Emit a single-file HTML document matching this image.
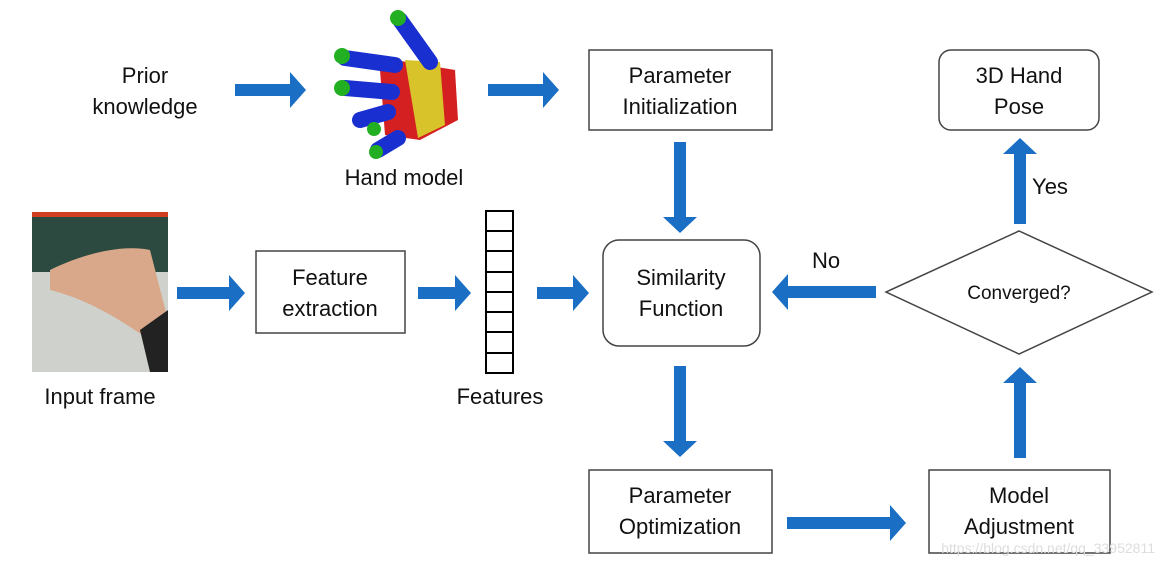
<!DOCTYPE html>
<html><head><meta charset="utf-8"><style>
body{margin:0;background:#fff}
svg text{font-family:"Liberation Sans",sans-serif;fill:#111}
</style></head><body>
<svg width="1163" height="567" viewBox="0 0 1163 567" xmlns="http://www.w3.org/2000/svg">
<defs>
<g id="ar"><path d="M0,-6 L-16,-6 L-16,-13 L0,0 L-16,13 L-16,6 Z"/></g>
</defs>
<g fill="#1a6fc4">
<!-- horizontal arrows right -->
<path d="M235,84 h55 v-12 l16,18 l-16,18 v-12 h-55z"/>
<path d="M488,84 h55 v-12 l16,18 l-16,18 v-12 h-55z"/>
<path d="M177,287 h52 v-12 l16,18 l-16,18 v-12 h-52z"/>
<path d="M418,287 h37 v-12 l16,18 l-16,18 v-12 h-37z"/>
<path d="M537,287 h36 v-12 l16,18 l-16,18 v-12 h-36z"/>
<path d="M787,517 h103 v-12 l16,18 l-16,18 v-12 h-103z"/>
<!-- left arrow No -->
<path d="M876,286 h-88 v-12 l-16,18 l16,18 v-12 h88z"/>
<!-- down arrows -->
<path d="M674,142 v75 h-11 l17,16 l17,-16 h-11 v-75z"/>
<path d="M674,366 v75 h-11 l17,16 l17,-16 h-11 v-75z"/>
<!-- up arrows -->
<path d="M1014,224 v-70 h-11 l17,-16 l17,16 h-11 v70z"/>
<path d="M1014,458 v-75 h-11 l17,-16 l17,16 h-11 v75z"/>
</g>
<g fill="none" stroke="#444" stroke-width="1.5">
<rect x="589" y="50" width="183" height="80"/>
<rect x="939" y="50" width="160" height="80" rx="12"/>
<rect x="256" y="251" width="149" height="82"/>
<rect x="603" y="240" width="157" height="106" rx="16"/>
<path d="M886,292 L1019,231 L1152,292 L1019,354 Z"/>
<rect x="589" y="470" width="183" height="83"/>
<rect x="929" y="470" width="181" height="83"/>
</g>
<g fill="none" stroke="#000" stroke-width="2">
<rect x="486" y="211" width="27" height="162"/>
<path d="M486,231h27M486,251h27M486,272h27M486,292h27M486,312h27M486,332h27M486,353h27"/>
</g>
<!-- hand model -->
<g>
<path d="M395,60 L455,70 L458,120 L420,140 L385,135 L380,70Z" fill="#d42020"/>
<path d="M405,60 L440,62 L445,125 L418,138 L410,90Z" fill="#d8c32a"/>
<g stroke="#1a2fd0" stroke-linecap="round" stroke-width="16">
<line x1="400" y1="20" x2="430" y2="62"/><line x1="345" y1="58" x2="395" y2="65"/>
<line x1="345" y1="88" x2="392" y2="92"/><line x1="360" y1="120" x2="388" y2="112"/>
<line x1="378" y1="150" x2="398" y2="138"/></g>
<g fill="#22b022"><circle cx="398" cy="18" r="8"/><circle cx="342" cy="56" r="8"/><circle cx="342" cy="88" r="8"/><circle cx="374" cy="129" r="7"/><circle cx="376" cy="152" r="7"/></g>
</g>
<!-- input frame -->
<rect x="32" y="212" width="136" height="160" fill="#cfd2cc"/>
<rect x="32" y="212" width="136" height="60" fill="#2c4a40"/>
<rect x="32" y="212" width="136" height="5" fill="#d04020"/>
<path d="M50,270 C90,250 130,245 150,250 L168,320 L150,340 C120,320 90,300 50,290Z" fill="#d9a88a"/>
<path d="M140,330 L168,310 L168,372 L150,372Z" fill="#222"/>
<g font-size="22" text-anchor="middle">
<text x="145" y="83">Prior</text><text x="145" y="114">knowledge</text>
<text x="404" y="185">Hand model</text>
<text x="680" y="83">Parameter</text><text x="680" y="114">Initialization</text>
<text x="1019" y="83">3D Hand</text><text x="1019" y="114">Pose</text>
<text x="1050" y="194">Yes</text>
<text x="100" y="404">Input frame</text>
<text x="330" y="285">Feature</text><text x="330" y="316">extraction</text>
<text x="500" y="404">Features</text>
<text x="681" y="285">Similarity</text><text x="681" y="316">Function</text>
<text x="826" y="268">No</text>
<text x="680" y="503">Parameter</text><text x="680" y="534">Optimization</text>
<text x="1019" y="503">Model</text><text x="1019" y="534">Adjustment</text>
</g>
<text x="1019" y="299" font-size="19" text-anchor="middle">Converged?</text>
<text x="1155" y="553" font-size="14" text-anchor="end" style="fill:#ddd">https://blog.csdn.net/qq_33952811</text>
</svg>
</body></html>
